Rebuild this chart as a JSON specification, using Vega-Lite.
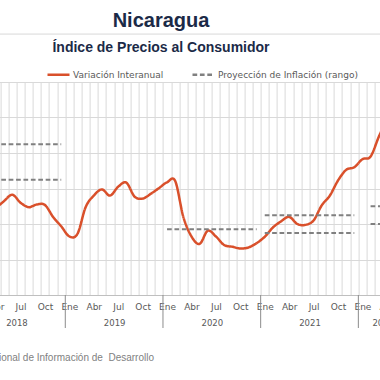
{
  "$schema": "https://vega.github.io/schema/vega-lite/v6.json",
  "width": 439.6,
  "height": 213,
  "autosize": {"type": "none"},
  "padding": {"left": -32.4, "top": 82, "right": -27.2, "bottom": 85},
  "background": "white",
  "config": {"view": {"stroke": null}, "font": "DejaVu Sans"},
  "title": {
    "text": "Nicaragua",
    "subtitle": "Índice de Precios al Consumidor",
    "anchor": "middle",
    "frame": "group",
    "dx": -26.4,
    "offset": -21,
    "font": "Liberation Sans",
    "fontSize": 20,
    "fontWeight": "bold",
    "color": "#1B2A47",
    "subtitleFont": "Liberation Sans",
    "subtitleFontSize": 14,
    "subtitleFontWeight": "bold",
    "subtitleColor": "#1B2A47",
    "subtitlePadding": 10
  },
  "datasets": {
    "curve": [
      {"serie": "Variación Interanual", "seg": "ipc", "t": -8.5, "v": 4.9},
      {"serie": "Variación Interanual", "seg": "ipc", "t": -7.5, "v": 5.3},
      {"serie": "Variación Interanual", "seg": "ipc", "t": -6.5, "v": 5.65},
      {"serie": "Variación Interanual", "seg": "ipc", "t": -5.5, "v": 5.2},
      {"serie": "Variación Interanual", "seg": "ipc", "t": -4.5, "v": 4.95},
      {"serie": "Variación Interanual", "seg": "ipc", "t": -3.5, "v": 5.1},
      {"serie": "Variación Interanual", "seg": "ipc", "t": -2.5, "v": 5.07},
      {"serie": "Variación Interanual", "seg": "ipc", "t": -1.5, "v": 4.4},
      {"serie": "Variación Interanual", "seg": "ipc", "t": -0.5, "v": 3.87},
      {"serie": "Variación Interanual", "seg": "ipc", "t": 0.5, "v": 3.3},
      {"serie": "Variación Interanual", "seg": "ipc", "t": 1.5, "v": 3.45},
      {"serie": "Variación Interanual", "seg": "ipc", "t": 2.5, "v": 4.95},
      {"serie": "Variación Interanual", "seg": "ipc", "t": 3.5, "v": 5.6},
      {"serie": "Variación Interanual", "seg": "ipc", "t": 4.5, "v": 5.95},
      {"serie": "Variación Interanual", "seg": "ipc", "t": 5.5, "v": 5.6},
      {"serie": "Variación Interanual", "seg": "ipc", "t": 6.5, "v": 6.1},
      {"serie": "Variación Interanual", "seg": "ipc", "t": 7.5, "v": 6.33},
      {"serie": "Variación Interanual", "seg": "ipc", "t": 8.5, "v": 5.55},
      {"serie": "Variación Interanual", "seg": "ipc", "t": 9.5, "v": 5.43},
      {"serie": "Variación Interanual", "seg": "ipc", "t": 10.5, "v": 5.7},
      {"serie": "Variación Interanual", "seg": "ipc", "t": 11.5, "v": 6.02},
      {"serie": "Variación Interanual", "seg": "ipc", "t": 12.5, "v": 6.35},
      {"serie": "Variación Interanual", "seg": "ipc", "t": 13.5, "v": 6.42},
      {"serie": "Variación Interanual", "seg": "ipc", "t": 14.5, "v": 4.4},
      {"serie": "Variación Interanual", "seg": "ipc", "t": 15.5, "v": 3.3},
      {"serie": "Variación Interanual", "seg": "ipc", "t": 16.5, "v": 2.88},
      {"serie": "Variación Interanual", "seg": "ipc", "t": 17.5, "v": 3.62},
      {"serie": "Variación Interanual", "seg": "ipc", "t": 18.5, "v": 3.3},
      {"serie": "Variación Interanual", "seg": "ipc", "t": 19.5, "v": 2.82},
      {"serie": "Variación Interanual", "seg": "ipc", "t": 20.5, "v": 2.72},
      {"serie": "Variación Interanual", "seg": "ipc", "t": 21.5, "v": 2.62},
      {"serie": "Variación Interanual", "seg": "ipc", "t": 22.5, "v": 2.68},
      {"serie": "Variación Interanual", "seg": "ipc", "t": 23.5, "v": 2.92},
      {"serie": "Variación Interanual", "seg": "ipc", "t": 24.5, "v": 3.28},
      {"serie": "Variación Interanual", "seg": "ipc", "t": 25.5, "v": 3.8},
      {"serie": "Variación Interanual", "seg": "ipc", "t": 26.5, "v": 4.15},
      {"serie": "Variación Interanual", "seg": "ipc", "t": 27.5, "v": 4.4},
      {"serie": "Variación Interanual", "seg": "ipc", "t": 28.5, "v": 4.0},
      {"serie": "Variación Interanual", "seg": "ipc", "t": 29.5, "v": 3.95},
      {"serie": "Variación Interanual", "seg": "ipc", "t": 30.5, "v": 4.2},
      {"serie": "Variación Interanual", "seg": "ipc", "t": 31.5, "v": 5.05},
      {"serie": "Variación Interanual", "seg": "ipc", "t": 32.5, "v": 5.6},
      {"serie": "Variación Interanual", "seg": "ipc", "t": 33.5, "v": 6.45},
      {"serie": "Variación Interanual", "seg": "ipc", "t": 34.5, "v": 7.05},
      {"serie": "Variación Interanual", "seg": "ipc", "t": 35.5, "v": 7.2},
      {"serie": "Variación Interanual", "seg": "ipc", "t": 36.5, "v": 7.65},
      {"serie": "Variación Interanual", "seg": "ipc", "t": 37.5, "v": 7.8},
      {"serie": "Variación Interanual", "seg": "ipc", "t": 38.5, "v": 8.9},
      {"serie": "Variación Interanual", "seg": "ipc", "t": 39.5, "v": 9.9}
    ],
    "proj": [
      {"serie": "Proyección de Inflación (rango)", "seg": "2018 sup", "t": -11.5, "v": 8.5},
      {"serie": "Proyección de Inflación (rango)", "seg": "2018 sup", "t": -0.5, "v": 8.5},
      {"serie": "Proyección de Inflación (rango)", "seg": "2018 inf", "t": -11.5, "v": 6.5},
      {"serie": "Proyección de Inflación (rango)", "seg": "2018 inf", "t": -0.5, "v": 6.5},
      {"serie": "Proyección de Inflación (rango)", "seg": "2020", "t": 12.5, "v": 3.7},
      {"serie": "Proyección de Inflación (rango)", "seg": "2020", "t": 23.5, "v": 3.7},
      {"serie": "Proyección de Inflación (rango)", "seg": "2021 sup", "t": 24.5, "v": 4.5},
      {"serie": "Proyección de Inflación (rango)", "seg": "2021 sup", "t": 35.5, "v": 4.5},
      {"serie": "Proyección de Inflación (rango)", "seg": "2021 inf", "t": 24.5, "v": 3.5},
      {"serie": "Proyección de Inflación (rango)", "seg": "2021 inf", "t": 35.5, "v": 3.5},
      {"serie": "Proyección de Inflación (rango)", "seg": "2022 sup", "t": 37.5, "v": 5.0},
      {"serie": "Proyección de Inflación (rango)", "seg": "2022 sup", "t": 41.5, "v": 5.0},
      {"serie": "Proyección de Inflación (rango)", "seg": "2022 inf", "t": 37.5, "v": 4.0},
      {"serie": "Proyección de Inflación (rango)", "seg": "2022 inf", "t": 41.5, "v": 4.0}
    ],
    "years": [
      {"t": -12}, {"t": 0}, {"t": 12}, {"t": 24}, {"t": 36}, {"t": 42}
    ],
    "note": [
      {"fuente": "Fuente: Instituto Nacional de Información de\u00a0 Desarrollo"}
    ]
  },
  "resolve": {"scale": {"x": "independent"}, "axis": {"x": "independent"}},
  "layer": [
    {
      "data": {"name": "curve"},
      "mark": {"type": "line", "interpolate": "cardinal", "strokeWidth": 2.5, "clip": true},
      "encoding": {
        "x": {
          "field": "t", "type": "quantitative",
          "scale": {"domain": [-12, 42], "nice": false, "zero": false},
          "axis": {
            "orient": "bottom",
            "values": [-12,-11,-10,-9,-8,-7,-6,-5,-4,-3,-2,-1,0,1,2,3,4,5,6,7,8,9,10,11,12,13,14,15,16,17,18,19,20,21,22,23,24,25,26,27,28,29,30,31,32,33,34,35,36,37,38,39,40,41,42],
            "grid": true, "gridColor": "#d9d9d9", "gridWidth": 1,
            "ticks": false, "tickSize": 0, "labels": false,
            "domain": true, "domainColor": "#bfbfbf", "domainWidth": 1, "title": null
          }
        },
        "y": {
          "field": "v", "type": "quantitative",
          "scale": {"domain": [0, 12], "nice": false, "zero": false},
          "axis": {"values": [0, 2, 4, 6, 8, 10, 12], "grid": true, "gridColor": "#d9d9d9", "gridWidth": 1, "labels": false, "ticks": false, "domain": false, "title": null}
        },
        "color": {
          "field": "serie", "type": "nominal",
          "scale": {"domain": ["Variación Interanual", "Proyección de Inflación (rango)"], "range": ["#D9502B", "#808080"]},
          "legend": {
            "orient": "none", "legendX": 78.4, "legendY": -20, "direction": "horizontal", "title": null,
            "symbolType": "stroke", "symbolSize": 484, "symbolStrokeWidth": 2.5,
            "labelFont": "DejaVu Sans", "labelFontSize": 9, "labelColor": "#595959",
            "labelOffset": 2, "columnPadding": 23, "labelLimit": 300
          }
        },
        "strokeDash": {
          "field": "serie", "type": "nominal",
          "scale": {"domain": ["Variación Interanual", "Proyección de Inflación (rango)"], "range": [[1, 0], [4.7, 2.7]]},
          "legend": {
            "orient": "none", "legendX": 78.4, "legendY": -20, "direction": "horizontal", "title": null,
            "symbolType": "stroke", "symbolSize": 484, "symbolStrokeWidth": 2.5,
            "labelFont": "DejaVu Sans", "labelFontSize": 9, "labelColor": "#595959",
            "labelOffset": 2, "columnPadding": 23, "labelLimit": 300
          }
        }
      }
    },
    {
      "data": {"name": "proj"},
      "mark": {"type": "line", "strokeWidth": 2, "clip": true},
      "encoding": {
        "x": {
          "field": "t", "type": "quantitative",
          "scale": {"domain": [-12, 42], "nice": false, "zero": false},
          "axis": {
            "orient": "bottom",
            "values": [-11.5, -8.5, -5.5, -2.5, 0.5, 3.5, 6.5, 9.5, 12.5, 15.5, 18.5, 21.5, 24.5, 27.5, 30.5, 33.5, 36.5, 39.5],
            "labelExpr": "['Ene','Abr','Jul','Oct'][floor(((((datum.value - 0.5) % 12) + 12) % 12) / 3)]",
            "grid": false, "ticks": false, "tickSize": 0, "domain": false,
            "labelPadding": 7, "labelFont": "DejaVu Sans", "labelFontSize": 9, "labelColor": "#595959",
            "labelOverlap": false, "labelBound": false, "labelFlush": false, "title": null
          }
        },
        "y": {
          "field": "v", "type": "quantitative",
          "scale": {"domain": [0, 12], "nice": false, "zero": false},
          "axis": {"values": [0, 2, 4, 6, 8, 10, 12], "grid": true, "gridColor": "#d9d9d9", "gridWidth": 1, "labels": false, "ticks": false, "domain": false, "title": null}
        },
        "detail": {"field": "seg", "type": "nominal"},
        "color": {"field": "serie", "type": "nominal"},
        "strokeDash": {"field": "serie", "type": "nominal"}
      }
    },
    {
      "data": {"name": "years"},
      "mark": {"type": "rule", "color": "#8c8c8c", "strokeWidth": 1, "clip": false},
      "encoding": {
        "x": {
          "field": "t", "type": "quantitative",
          "scale": {"domain": [-12, 42], "nice": false, "zero": false},
          "axis": {
            "orient": "bottom",
            "values": [-6, 6, 18, 30, 39],
            "labelExpr": "'' + (2019 + floor(datum.value / 12))",
            "grid": false, "ticks": false, "tickSize": 0, "domain": false,
            "labelPadding": 23, "labelFont": "DejaVu Sans", "labelFontSize": 8.5, "labelColor": "#595959",
            "labelOverlap": false, "labelBound": false, "labelFlush": false, "title": null
          }
        },
        "y": {
          "datum": 0, "type": "quantitative",
          "scale": {"domain": [0, 12], "nice": false, "zero": false},
          "axis": {"values": [0, 2, 4, 6, 8, 10, 12], "grid": true, "gridColor": "#d9d9d9", "gridWidth": 1, "labels": false, "ticks": false, "domain": false, "title": null}
        },
        "y2": {"datum": -1.86}
      }
    },
    {
      "data": {"name": "note"},
      "mark": {"type": "text", "align": "right", "baseline": "middle", "font": "Liberation Sans", "fontSize": 10, "color": "#7f7f7f", "clip": false},
      "encoding": {
        "x": {"datum": 10.9, "type": "quantitative", "scale": {"domain": [-12, 42], "nice": false, "zero": false}, "axis": null},
        "y": {
          "datum": -3.55, "type": "quantitative",
          "scale": {"domain": [0, 12], "nice": false, "zero": false},
          "axis": {"values": [0, 2, 4, 6, 8, 10, 12], "grid": true, "gridColor": "#d9d9d9", "gridWidth": 1, "labels": false, "ticks": false, "domain": false, "title": null}
        },
        "text": {"field": "fuente", "type": "nominal"}
      }
    },
    {
      "data": {"name": "note"},
      "mark": {"type": "rule", "color": "#d9d9d9", "strokeWidth": 1, "clip": false},
      "encoding": {
        "y": {
          "datum": 14.7, "type": "quantitative",
          "scale": {"domain": [0, 12], "nice": false, "zero": false},
          "axis": {"values": [0, 2, 4, 6, 8, 10, 12], "grid": true, "gridColor": "#d9d9d9", "gridWidth": 1, "labels": false, "ticks": false, "domain": false, "title": null}
        }
      }
    }
  ]
}
